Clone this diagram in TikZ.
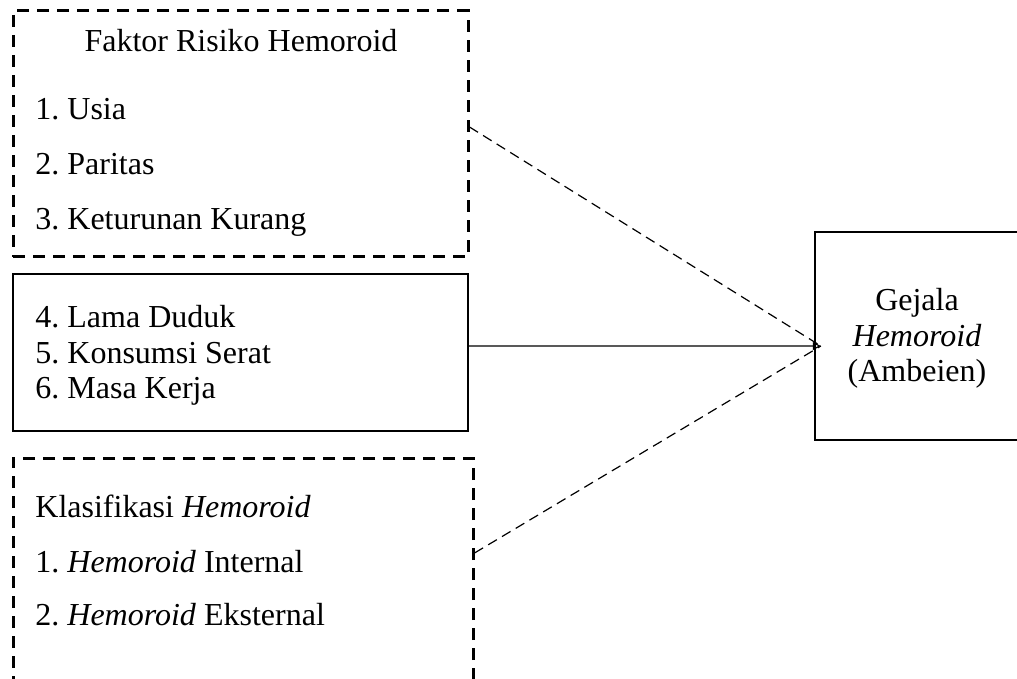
\documentclass[tikz,border=0pt]{standalone}
\usepackage{fontspec}
\setmainfont{Liberation Serif}
\usetikzlibrary{arrows.meta, positioning, calc}
\frenchspacing

\begin{document}
\begin{tikzpicture}[
  x=0.5pt, y=-0.5pt,
  dashbox/.style={draw=black, line width=1.5pt, dash pattern=on 6pt off 4pt, inner sep=0pt, minimum width=227.5pt},
  solidbox/.style={draw=black, line width=1.1pt, inner sep=0pt},
  txt/.style={inner sep=0pt, anchor=base west, font=\fontsize{16}{19}\selectfont},
  ctxt/.style={inner sep=0pt, anchor=base, font=\fontsize{16}{19}\selectfont},
  link/.style={line width=0.6pt, dash pattern=on 5pt off 3pt},
  arr/.style={-{Triangle[open, length=4pt, width=4pt]}, line width=0.6pt}
]
\clip (0,0) rectangle (1017,679);
\useasboundingbox (0,0) rectangle (1017,679);

% boxes
\node[dashbox, minimum height=123pt] (risk) at (240.5,134) {};
\node[solidbox, minimum width=227.5pt, minimum height=78.5pt] (work) at (240.5,352.5) {};
\node[dashbox, minimum width=230pt, minimum height=121pt] (klas) at (243,579) {};
\node[solidbox, minimum width=107.5pt, minimum height=104pt] (gejala) at (922.5,336) {};

% texts
\node[ctxt] (riskt) at (241,52) {Faktor Risiko Hemoroid};
\node[txt] (r1) at (35,120) {1. Usia};
\node[txt] (r2) at (35,175) {2. Paritas};
\node[txt] (r3) at (35,230) {3. Keturunan Kurang};

\node[txt] (w4) at (35,328) {4. Lama Duduk};
\node[txt] (w5) at (35,363) {5. Konsumsi Serat};
\node[txt] (w6) at (35,398) {6. Masa Kerja};

\node[txt] (klast) at (35,517) {Klasifikasi \textit{Hemoroid}};
\node[txt] (k1) at (35,572) {1. \textit{Hemoroid} Internal};
\node[txt] (k2) at (35,625) {2. \textit{Hemoroid} Eksternal};

\node[ctxt] (g1) at (917,310) {Gejala};
\node[ctxt] (g2) at (917,346) {\textit{Hemoroid}};
\node[ctxt] (g3) at (917,381) {(Ambeien)};

% connectors
\coordinate (tip) at ([xshift=3.5pt,yshift=-5pt]gejala.west);
\draw[link] ([yshift=3.5pt]risk.east) -- (tip);
\draw[arr] ([yshift=3.3pt]work.east) -- (tip);
\draw[link] ([yshift=13pt]klas.east) -- (tip);
\end{tikzpicture}
\end{document}
